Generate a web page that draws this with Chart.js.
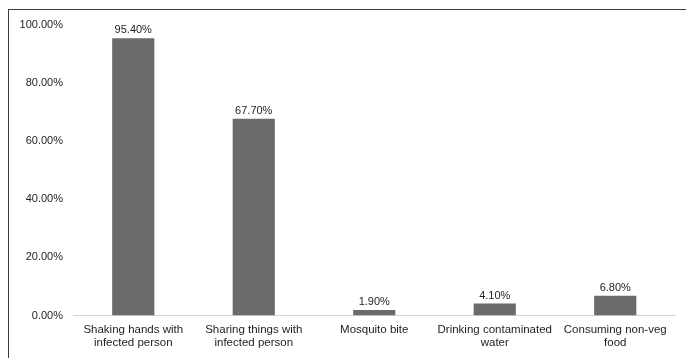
<!DOCTYPE html>
<html>
<head>
<meta charset="utf-8">
<script src="https://cdn.jsdelivr.net/npm/chart.js@4/dist/chart.umd.min.js"></script>
<style>
  html, body { margin: 0; padding: 0; background: #fff; }
  #wrap { position: relative; width: 686px; height: 358px; overflow: hidden; }
  #frame { position: absolute; left: 8px; top: 9px; right: -10px; bottom: -10px;
           border-top: 1.5px solid #3c3c3c; border-left: 1.5px solid #3c3c3c; pointer-events: none; }
  canvas { position: absolute; left: 0; top: 0; }
</style>
</head>
<body>
<div id="wrap">
  <canvas id="c" width="686" height="358"></canvas>
  <div id="frame"></div>
</div>
<script>
// Perceived modes of transmission (% of respondents)
const categories = [
  ["Shaking hands with", "infected person"],
  ["Sharing things with", "infected person"],
  "Mosquito bite",
  ["Drinking contaminated", "water"],
  ["Consuming non-veg", "food"]
];
const percentValues = [95.4, 67.7, 1.9, 4.1, 6.8];
const yTicks = [0, 20, 40, 60, 80, 100];

const FONT = "'Liberation Sans', Arial, sans-serif";
const TEXT = "#1e1e1e";

// Writes each bar's value just above it
const valueLabels = {
  id: "valueLabels",
  afterDatasetsDraw(chart) {
    const ctx = chart.ctx;
    const meta = chart.getDatasetMeta(0);
    ctx.save();
    ctx.font = "11px " + FONT;
    ctx.fillStyle = TEXT;
    ctx.textAlign = "center";
    ctx.textBaseline = "alphabetic";
    meta.data.forEach((bar, i) => {
      ctx.fillText(percentValues[i].toFixed(2) + "%", bar.x, bar.y - 5);
    });
    ctx.restore();
  }
};

new Chart(document.getElementById("c"), {
  type: "bar",
  data: {
    labels: categories,
    datasets: [{
      data: percentValues,
      backgroundColor: "#6b6b6b",
      borderWidth: 0,
      barPercentage: 0.35,
      categoryPercentage: 1.0
    }]
  },
  options: {
    responsive: false,
    animation: false,
    devicePixelRatio: 1,
    layout: { padding: { top: 25, right: 10.5, left: 0, bottom: 0 } },
    plugins: {
      legend: { display: false },
      tooltip: { enabled: false }
    },
    scales: {
      x: {
        grid: { display: false, drawTicks: false },
        border: { display: true, color: "#d6d6d6", width: 1 },
        ticks: {
          color: TEXT,
          font: { family: FONT, size: 11.5, lineHeight: 1.12 },
          padding: 8,
          maxRotation: 0,
          autoSkip: false
        },
        afterFit(scale) { scale.height = 42.5; }
      },
      y: {
        min: 0,
        max: 100,
        grid: { display: false, drawTicks: false },
        border: { display: false },
        afterBuildTicks(scale) { scale.ticks = yTicks.map(v => ({ value: v })); },
        ticks: {
          color: TEXT,
          font: { family: FONT, size: 11 },
          padding: 10,
          callback: v => Number(v).toFixed(2) + "%"
        },
        afterFit(scale) { scale.width = 73; }
      }
    }
  },
  plugins: [valueLabels]
});
</script>
</body>
</html>
